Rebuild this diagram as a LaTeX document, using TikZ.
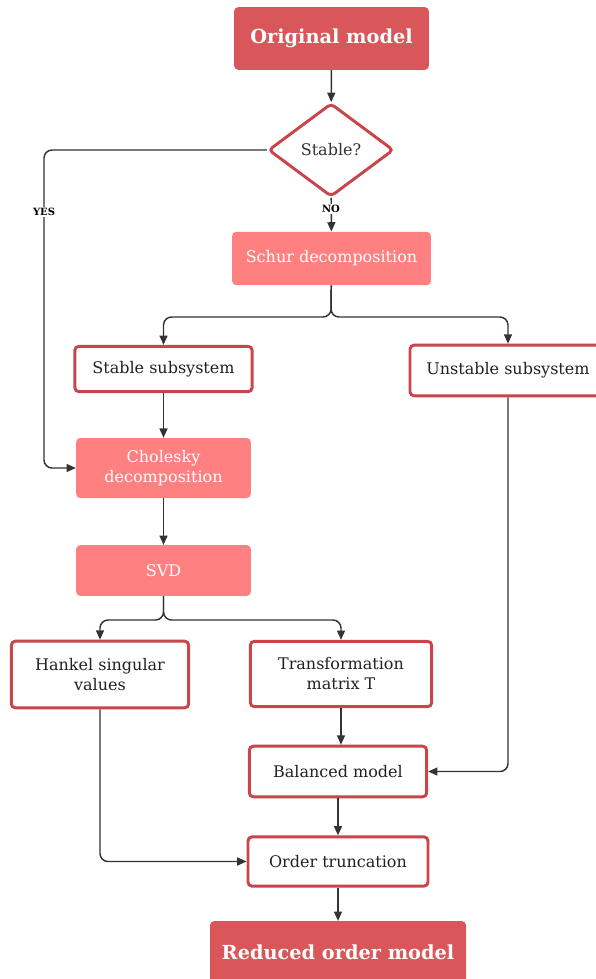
\documentclass[tikz,border=0pt]{standalone}
\usepackage{fontspec}
\setmainfont{DejaVu Serif}
\usepackage{tikz}
\usetikzlibrary{shapes.geometric,arrows.meta,positioning}
\definecolor{darkred}{HTML}{D9575A}
\definecolor{edgered}{HTML}{C8454A}
\definecolor{lightred}{HTML}{FF8080}
\definecolor{linegray}{HTML}{333333}

\begin{document}
\begin{tikzpicture}[
    x=0.75pt, y=-0.75pt,
    font=\fontsize{12}{15}\selectfont,
    hollow/.style={rectangle, rounded corners=3pt, draw=edgered, line width=2.2pt, fill=white, text=black!87, align=center, inner sep=0pt},
    filled/.style={rectangle, rounded corners=3pt, fill=lightred, text=white, align=center, inner sep=0pt},
    term/.style={rectangle, rounded corners=3pt, fill=darkred, text=white, font=\fontsize{14.5}{17}\selectfont\bfseries, inner sep=0pt},
    decision/.style={diamond, rounded corners=3pt, draw=edgered, line width=2.2pt, fill=white, text=black!80, inner sep=0pt},
    flag/.style={fill=white, inner sep=1pt, font=\fontsize{7.5}{8}\selectfont\bfseries},
    arrow/.style={-{Triangle[length=7pt,width=6pt]}, line width=1.1pt, draw=linegray, rounded corners=6pt}
]
    \useasboundingbox (0,0) rectangle (596,979);

    % Top part
    \node[term, minimum width=146pt, minimum height=47pt] (orig) at (331.5,38.5) {Original model};
    \node[decision, minimum width=94pt, minimum height=70pt] (stable) at (331,150) {Stable?};
    \node[filled, minimum width=149pt, minimum height=40pt] (schur) at (331.5,258.5) {Schur decomposition};

    % Subsystems
    \node[hollow, minimum width=133pt, minimum height=34pt] (stabsub) at (163.5,369) {Stable subsystem};
    \node[hollow, minimum width=147pt, minimum height=38pt] (unstab) at (508,370.5) {Unstable subsystem};

    % Balancing
    \node[filled, minimum width=131pt, minimum height=45pt] (chol) at (163.5,468) {Cholesky\\decomposition};
    \node[filled, minimum width=131pt, minimum height=38pt] (svd) at (163.5,570.5) {SVD};
    \node[hollow, minimum width=133pt, minimum height=50pt] (hankel) at (100,674.5) {Hankel singular\\values};
    \node[hollow, minimum width=136pt, minimum height=49pt] (trans) at (341,674) {Transformation\\matrix T};
    \node[hollow, minimum width=133pt, minimum height=38pt] (bal) at (338,771.5) {Balanced model};
    \node[hollow, minimum width=135pt, minimum height=37pt] (trunc) at (338,861.5) {Order truncation};
    \node[term, minimum width=192pt, minimum height=47pt] (red) at (338,952.5) {Reduced order model};

    \coordinate (yesc) at (44,150);
    \coordinate (split1) at (331,317);
    \coordinate (split2) at (163.5,620);

    % Connectors
    \draw[arrow] (orig) -- (stable);
    \draw[arrow] (stable.west) -- (yesc) |- (chol.west);
    \draw[arrow] (stable) -- (schur);
    \draw[arrow] (schur) -- (split1) -| (stabsub.north);
    \draw[arrow] (schur) -- (split1) -| (unstab.north);
    \draw[arrow] (stabsub) -- (chol);
    \draw[arrow] (chol) -- (svd);
    \draw[arrow] (svd) -- (split2) -| (hankel.north);
    \draw[arrow] (svd) -- (split2) -| (trans.north);
    \draw[arrow, rounded corners=0pt] (trans.south) -- (trans.south |- bal.north);
    \draw[arrow] (unstab.south) |- (bal.east);
    \draw[arrow] (bal) -- (trunc);
    \draw[arrow] (hankel.south) |- (trunc.west);
    \draw[arrow] (trunc) -- (red);

    \node[flag] (yes) at (44,212) {YES};
    \node[flag] (no) at (331,209) {NO};
\end{tikzpicture}
\end{document}
